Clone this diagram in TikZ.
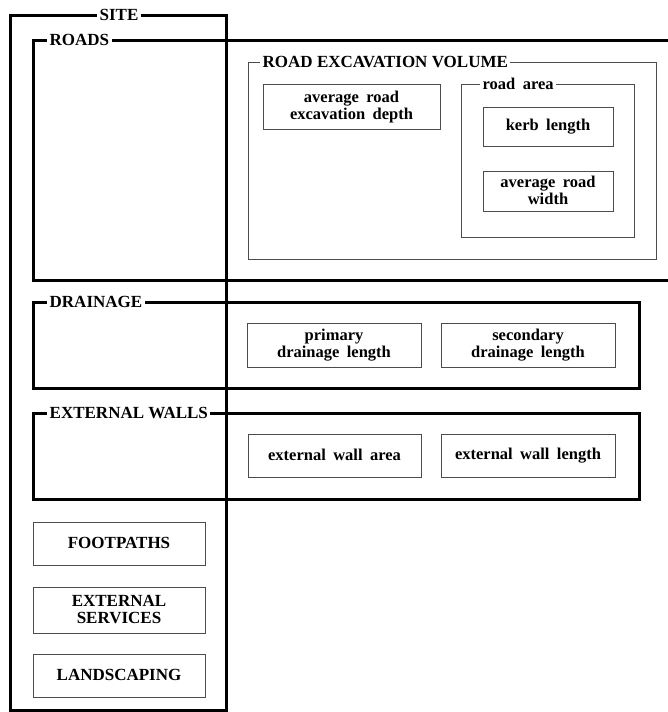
\documentclass[tikz,border=0pt]{standalone}
\usepackage{fontspec}
\setmainfont{Liberation Serif}
\newfontfamily\widefam[WordSpace=1.8]{Liberation Serif}
\newcommand\ms{\rule[-2pt]{0pt}{14pt}}
\begin{document}
\begin{tikzpicture}[x=1pt,y=-1pt,
  frame/.style={draw=black, line width=3pt, inner sep=0pt, outer sep=0pt, anchor=north west},
  thin/.style={draw=black!70, line width=0.9pt, inner sep=0pt, outer sep=0pt, anchor=north west},
  ttl/.style={fill=white, inner sep=2.5pt, anchor=west, font=\bfseries\fontsize{17}{17}\selectfont},
  lowttl/.style={fill=white, inner sep=2.5pt, anchor=west, font=\widefam\bfseries\fontsize{16.5}{17}\selectfont},
  caps/.style={thin, align=center, font=\bfseries\fontsize{17}{17}\selectfont},
  low/.style={thin, align=center, font=\widefam\bfseries\fontsize{16.5}{17}\selectfont}
]
\useasboundingbox (0,0) rectangle (668,712);
\clip (0,0) rectangle (668,712);
\fill[white] (0,0) rectangle (668,712);

% SITE
\node[frame, minimum width=216pt, minimum height=695pt] (site) at (10,15) {};
\node[ttl, anchor=center] (sitet) at (119,15) {SITE};

% ROADS
\node[frame, minimum width=647pt, minimum height=240pt] (roads) at (33,40) {};
\node[ttl] (roadst) at (47,40) {ROADS};

% ROAD EXCAVATION VOLUME
\node[thin, minimum width=408pt, minimum height=197pt] (rev) at (248,62) {};
\node[ttl] (revt) at (260,62) {ROAD EXCAVATION VOLUME};
\node[low, minimum width=177pt, minimum height=45pt] (depth) at (263,84) {\ms average road\\\ms excavation depth};

\node[thin, minimum width=173pt, minimum height=153pt] (area) at (461,84) {};
\node[lowttl] (areat) at (480,84) {road area};
\node[low, minimum width=130pt, minimum height=39pt] (kerb) at (483,107) {\ms kerb length};
\node[low, minimum width=130pt, minimum height=40pt] (width) at (483,171) {\ms average road\\\ms width};

% DRAINAGE
\node[frame, minimum width=606pt, minimum height=86pt] (drain) at (33,302) {};
\node[ttl] (draint) at (47,302) {DRAINAGE};
\node[low, minimum width=174pt, minimum height=44pt] (prim) at (247,323) {\ms primary\\\ms drainage length};
\node[low, minimum width=174pt, minimum height=44pt] (sec) at (441,323) {\ms secondary\\\ms drainage length};

% EXTERNAL WALLS
\node[frame, minimum width=606pt, minimum height=86pt] (walls) at (33,413) {};
\node[ttl] (wallst) at (47,413) {EXTERNAL WALLS};
\node[low, minimum width=173pt, minimum height=43pt] (warea) at (248,434) {\ms external wall area};
\node[low, minimum width=174pt, minimum height=43pt] (wlen) at (441,434) {\ms external wall length};

% left column
\node[caps, minimum width=172pt, minimum height=43pt] (foot) at (33,522) {\ms FOOTPATHS};
\node[caps, minimum width=172pt, minimum height=46pt] (serv) at (33,587) {\ms EXTERNAL\\\ms SERVICES};
\node[caps, minimum width=172pt, minimum height=43pt] (land) at (33,654) {\ms LANDSCAPING};
\end{tikzpicture}
\end{document}
